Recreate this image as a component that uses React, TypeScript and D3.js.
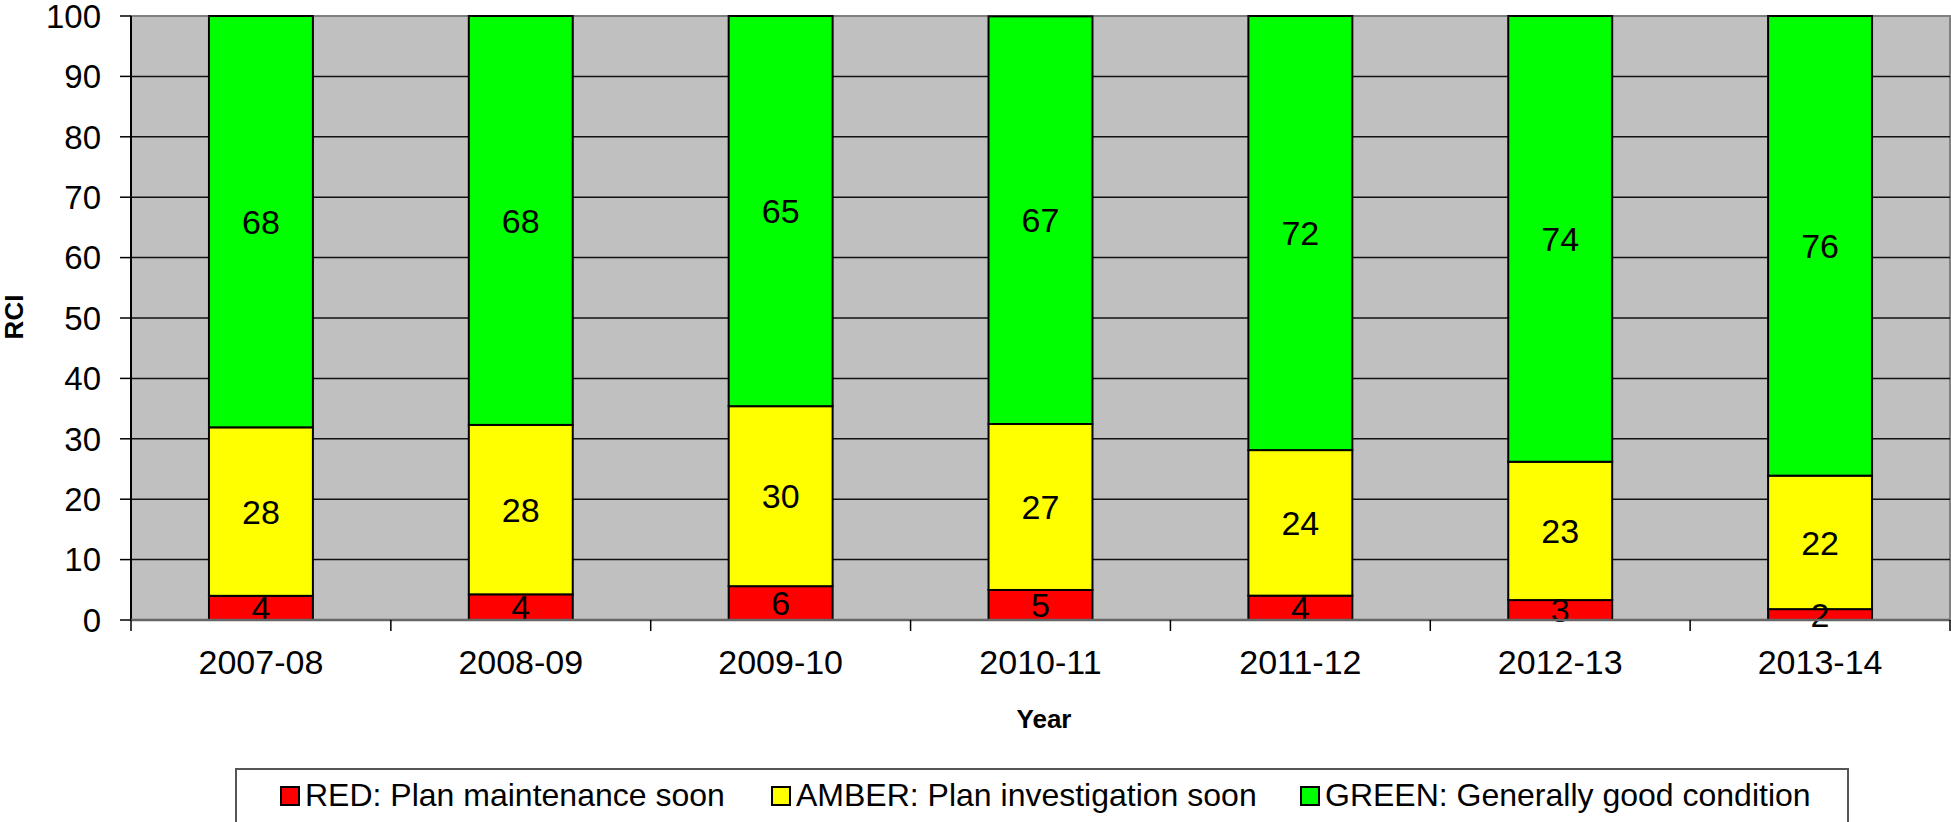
import React from 'react';
import * as d3 from 'd3';

const years = ['2007-08', '2008-09', '2009-10', '2010-11', '2011-12', '2012-13', '2013-14'];
const red = [4.0, 4.25, 5.6, 4.97, 4.03, 3.3, 1.8];
const amber = [27.9, 28.05, 29.8, 27.48, 24.1, 22.9, 22.1];
const green = [68.1, 67.7, 64.6, 67.49, 71.87, 73.8, 76.1];
const seriesKeys = ['red', 'amber', 'green'];
const seriesColors = ['#FF0000', '#FFFF00', '#00FF00'];
const legendLabels = ['RED: Plan maintenance soon', 'AMBER: Plan investigation soon', 'GREEN: Generally good condition'];
const yTicks = [0, 10, 20, 30, 40, 50, 60, 70, 80, 90, 100];

const W = 1951;
const H = 822;
const plot = { left: 131, right: 1950, top: 16, bottom: 620 };
const font = '"Liberation Sans", Arial, sans-serif';

const App = () => {
  const rows = years.map((y, i) => ({ year: y, red: red[i], amber: amber[i], green: green[i] }));
  const stacked = d3.stack<any>().keys(seriesKeys)(rows);

  const x = d3.scaleBand<string>()
    .domain(years)
    .range([plot.left, plot.right])
    .paddingInner(0.6)
    .paddingOuter(0.3);
  const y = d3.scaleLinear().domain([0, 100]).range([plot.bottom, plot.top]);
  const step = x.step();
  const bounds = d3.range(years.length + 1).map(i => plot.left + i * step);

  // legend item positions
  const legendX = [281, 772, 1301];

  return (
    <svg width={W} height={H} style={{ position: 'absolute', left: 0, top: 0 }} fontFamily={font}>
      <rect x={0} y={0} width={W} height={H} fill="#fff" />
      {/* plot area */}
      <rect x={plot.left} y={plot.top} width={plot.right - plot.left} height={plot.bottom - plot.top}
        fill="#C0C0C0" stroke="#808080" strokeWidth={2} />
      {yTicks.filter(t => t > 0 && t < 100).map(t => (
        <line key={t} x1={plot.left} x2={plot.right} y1={y(t)} y2={y(t)} stroke="#111" strokeWidth={1.5} />
      ))}

      {/* bars */}
      {stacked.map((s, si) => (
        <g key={s.key}>
          {s.map((d, i) => (
            <rect key={i} x={x(years[i])} y={y(d[1])} width={x.bandwidth()} height={y(d[0]) - y(d[1])}
              fill={seriesColors[si]} stroke="#000" strokeWidth={2} />
          ))}
        </g>
      ))}
      {stacked.map(s => (
        <g key={'lab' + s.key}>
          {s.map((d, i) => (
            <text key={i} x={x(years[i])! + x.bandwidth() / 2} y={(y(d[0]) + y(d[1])) / 2} dy="0.36em"
              textAnchor="middle" fontSize={34} fill="#000">
              {Math.round(d[1] - d[0])}
            </text>
          ))}
        </g>
      ))}

      {/* axes */}
      <line x1={plot.left} x2={plot.left} y1={plot.top} y2={plot.bottom} stroke="#000" strokeWidth={2} />
      <line x1={plot.left} x2={plot.right} y1={plot.bottom} y2={plot.bottom} stroke="#666" strokeWidth={2.5} />
      {yTicks.map(t => (
        <g key={'yt' + t}>
          <line x1={plot.left - 11} x2={plot.left} y1={y(t)} y2={y(t)} stroke="#000" strokeWidth={1.5} />
          <text x={101} y={y(t)} dy="0.36em" textAnchor="end" fontSize={33} fill="#000">{t}</text>
        </g>
      ))}
      {bounds.map((bx, i) => (
        <line key={'xt' + i} x1={bx} x2={bx} y1={plot.bottom} y2={plot.bottom + 11} stroke="#000" strokeWidth={1.5} />
      ))}
      {years.map(yr => (
        <text key={yr} x={x(yr)! + x.bandwidth() / 2} y={674} textAnchor="middle" fontSize={34} fill="#000">{yr}</text>
      ))}

      {/* axis titles */}
      <text transform="translate(23,317) rotate(-90)" textAnchor="middle" fontSize={26} fontWeight="bold">RCI</text>
      <text x={1044} y={728} textAnchor="middle" fontSize={26} fontWeight="bold">Year</text>

      {/* legend */}
      <rect x={236} y={769} width={1612} height={90} fill="#fff" stroke="#555" strokeWidth={2} />
      {legendLabels.map((l, i) => (
        <g key={l} transform={`translate(${legendX[i]},787)`}>
          <rect x={0} y={0} width={18} height={18} fill={seriesColors[i]} stroke="#000" strokeWidth={2} />
          <text x={24} y={19} fontSize={32} fill="#000">{l}</text>
        </g>
      ))}
    </svg>
  );
};

export default App;
